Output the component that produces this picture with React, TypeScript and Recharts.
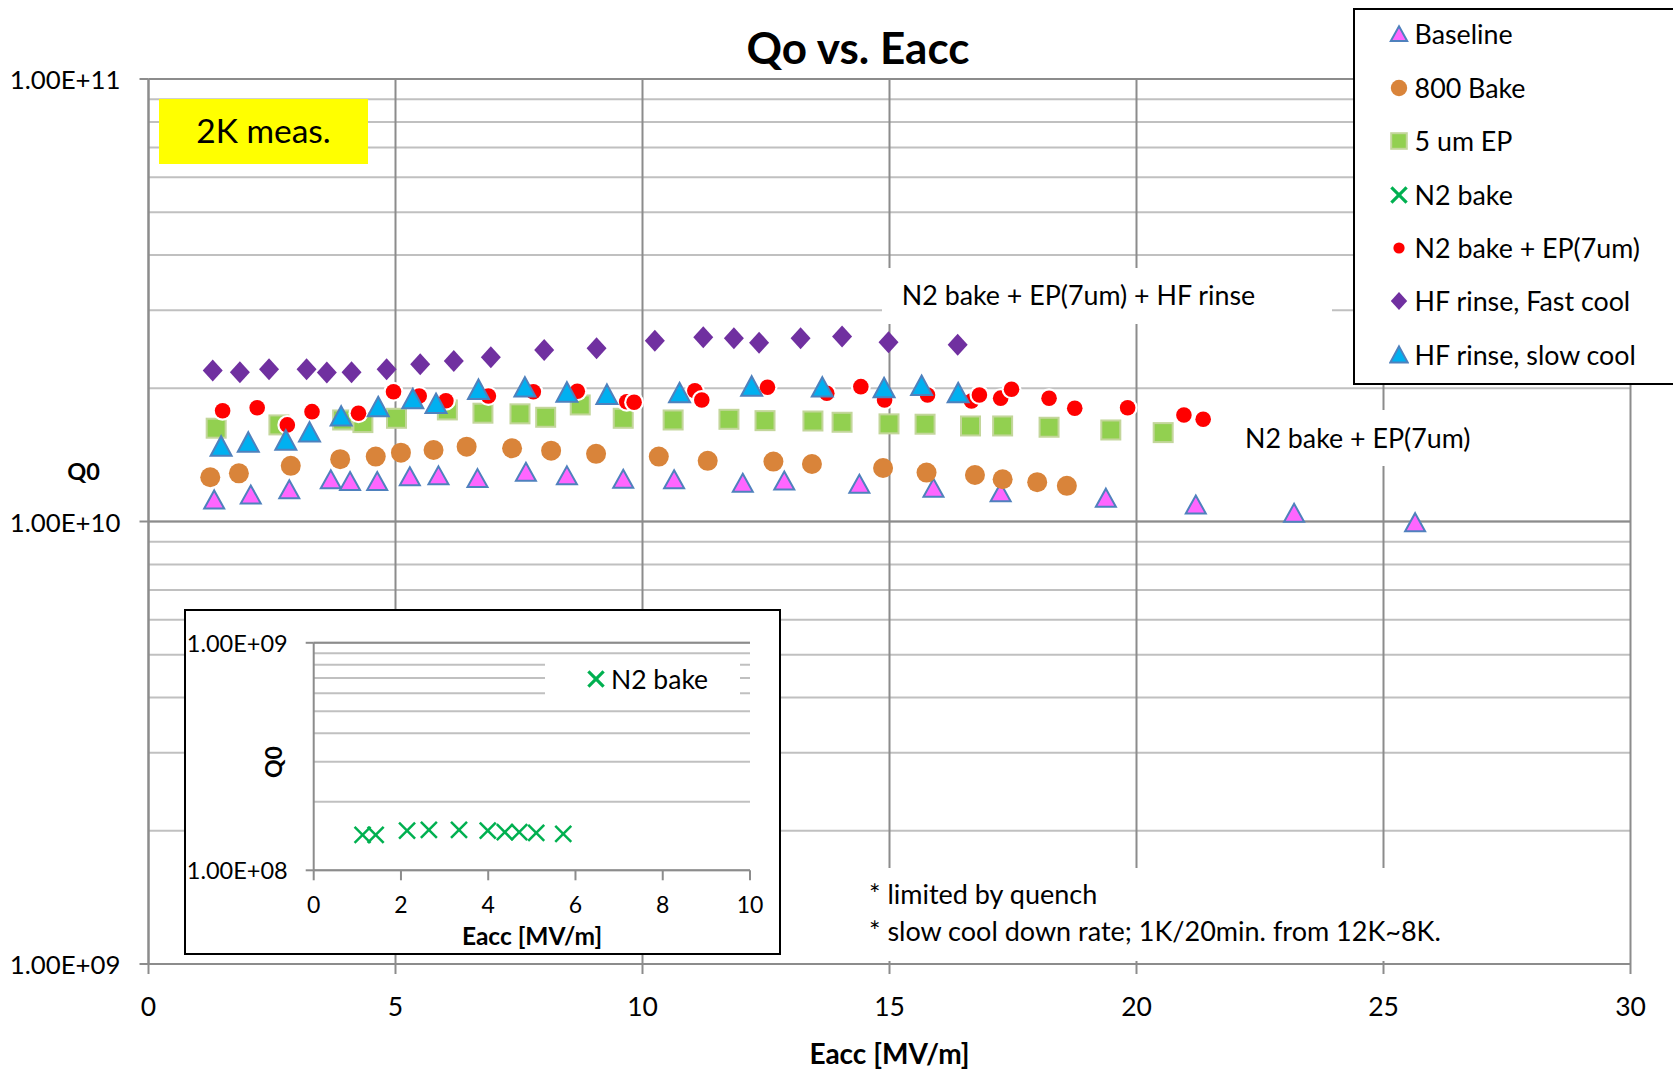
import React from "react";
import {
  CartesianGrid,
  Legend,
  ReferenceLine,
  Scatter,
  ScatterChart,
  XAxis,
  YAxis,
} from "recharts";

const FONT = "Lato, 'Open Sans', sans-serif";

// Eacc [MV/m] and Q0 (x1e10)
const baselineE = [1.33, 2.07, 2.85, 3.69, 4.08, 4.63, 5.29, 5.87, 6.66, 7.64, 8.47, 9.61, 10.64, 12.03, 12.87, 14.39, 15.89, 17.25, 19.38, 21.2, 23.19, 25.64];
const baselineQ = [1.119, 1.148, 1.179, 1.242, 1.231, 1.231, 1.262, 1.268, 1.25, 1.292, 1.268, 1.246, 1.242, 1.22, 1.235, 1.214, 1.189, 1.162, 1.129, 1.09, 1.044, 0.994];

const bake800E = [1.25, 1.83, 2.88, 3.88, 4.6, 5.11, 5.77, 6.44, 7.36, 8.15, 9.06, 10.33, 11.32, 12.65, 13.43, 14.87, 15.75, 16.73, 17.29, 17.99, 18.59];
const bake800Q = [1.259, 1.285, 1.336, 1.383, 1.402, 1.431, 1.451, 1.476, 1.464, 1.446, 1.422, 1.402, 1.371, 1.366, 1.349, 1.321, 1.29, 1.274, 1.246, 1.227, 1.204];

const ep5E = [1.37, 2.64, 3.93, 4.34, 5.02, 6.05, 6.77, 7.52, 8.04, 8.74, 9.61, 10.62, 11.75, 12.48, 13.45, 14.04, 14.99, 15.72, 16.64, 17.29, 18.23, 19.48, 20.54];
const ep5Q = [1.625, 1.653, 1.696, 1.673, 1.711, 1.787, 1.757, 1.751, 1.72, 1.834, 1.711, 1.696, 1.702, 1.69, 1.687, 1.676, 1.662, 1.659, 1.644, 1.644, 1.633, 1.61, 1.588];

const n2epE = [1.5, 2.2, 2.81, 3.31, 4.25, 4.96, 5.48, 6.02, 6.88, 7.79, 8.68, 9.68, 9.83, 11.06, 11.2, 12.53, 13.73, 14.42, 14.9, 15.77, 16.66, 16.82, 17.25, 17.47, 18.23, 18.75, 19.82, 20.96, 21.35];
const n2epQ = [1.78, 1.808, 1.653, 1.771, 1.757, 1.965, 1.921, 1.875, 1.921, 1.965, 1.97, 1.865, 1.86, 1.975, 1.882, 2.011, 1.949, 2.017, 1.882, 1.932, 1.872, 1.932, 1.9, 1.99, 1.899, 1.803, 1.808, 1.741, 1.702];

const hfFastE = [1.3, 1.85, 2.44, 3.2, 3.61, 4.11, 4.82, 5.5, 6.18, 6.93, 8.01, 9.07, 10.25, 11.23, 11.85, 12.36, 13.2, 14.04, 14.98, 16.38];
const hfFastQ = [2.193, 2.174, 2.208, 2.208, 2.17, 2.174, 2.208, 2.266, 2.306, 2.35, 2.441, 2.463, 2.563, 2.608, 2.595, 2.536, 2.595, 2.617, 2.541, 2.51];

const hfSlowE = [1.47, 2.02, 2.78, 3.26, 3.9, 4.65, 5.35, 5.82, 6.68, 7.62, 8.47, 9.28, 10.75, 12.21, 13.64, 14.89, 15.65, 16.39];
const hfSlowQ = [1.476, 1.507, 1.523, 1.588, 1.726, 1.812, 1.889, 1.843, 1.983, 2.007, 1.955, 1.932, 1.949, 2.017, 2.007, 2.0, 2.024, 1.949];

// inset, Q0 x1e8
const n2E = [1.12, 1.42, 2.14, 2.64, 3.33, 3.99, 4.38, 4.71, 5.1, 5.72];
const n2Q = [1.43, 1.43, 1.495, 1.506, 1.506, 1.495, 1.471, 1.471, 1.46, 1.445];

const xTicksMain = [0, 5, 10, 15, 20, 25, 30];
const yTicksMain = [1e9, 2e9, 3e9, 4e9, 5e9, 6e9, 7e9, 8e9, 9e9, 1e10, 2e10, 3e10, 4e10, 5e10, 6e10, 7e10, 8e10, 9e10, 1e11];
const yMajorMain = [1e9, 1e10, 1e11];
const xTicksInset = [0, 2, 4, 6, 8, 10];
const yTicksInset = [1e8, 2e8, 3e8, 4e8, 5e8, 6e8, 7e8, 8e8, 9e8, 1e9];
const yMajorInset = [1e8, 1e9];

const legendNames = [
  "Baseline",
  "800 Bake",
  "5 um EP",
  "N2 bake",
  "N2 bake + EP(7um)",
  "HF rinse, Fast cool",
  "HF rinse, slow cool",
];
const legendKinds = ["baseline", "bake800", "ep5", "n2", "n2ep", "hfFast", "hfSlow"];

const pts = (xs: number[], ys: number[], mult: number) =>
  xs.map((x, i) => ({ x, y: ys[i] * mult }));

const fmtSci = (v: number) => {
  const [m, e] = v.toExponential(2).split("e");
  return `${m}E${e[0]}${e.slice(1).padStart(2, "0")}`;
};

const GRID_LIGHT = "#c0c0c0";
const GRID_DARK = "#8c8c8c";

function Marker({ kind, cx, cy, k = 1, sw = 2.5 }: { kind: string; cx: number; cy: number; k?: number; sw?: number }) {
  switch (kind) {
    case "baseline":
      return (
        <polygon
          points={`${cx},${cy - 9.5 * k} ${cx + 10 * k},${cy + 8.5 * k} ${cx - 10 * k},${cy + 8.5 * k}`}
          fill="#ff66ff"
          stroke="#4f81bd"
          strokeWidth={2}
        />
      );
    case "bake800":
      return <circle cx={cx} cy={cy} r={10 * k} fill="#d9843a" />;
    case "ep5":
      return (
        <rect
          x={cx - 9.5 * k}
          y={cy - 9.5 * k}
          width={19 * k}
          height={19 * k}
          fill="#92d050"
          stroke="#c3d69b"
          strokeWidth={2}
        />
      );
    case "n2": {
      const s = 8 * k;
      return (
        <g stroke="#00b050" strokeWidth={sw}>
          <line x1={cx - s} y1={cy - s} x2={cx + s} y2={cy + s} />
          <line x1={cx - s} y1={cy + s} x2={cx + s} y2={cy - s} />
        </g>
      );
    }
    case "n2ep":
      return (
        <g>
          {k >= 1 && <circle cx={cx} cy={cy} r={10} fill="#ffffff" />}
          <circle cx={cx} cy={cy} r={7.8 * k} fill="#ff0000" />
        </g>
      );
    case "hfFast":
      return (
        <polygon
          points={`${cx},${cy - 11 * k} ${cx + 10 * k},${cy} ${cx},${cy + 11 * k} ${cx - 10 * k},${cy}`}
          fill="#7030a0"
        />
      );
    default:
      return (
        <polygon
          points={`${cx},${cy - 10.5 * k} ${cx + 10.5 * k},${cy + 9 * k} ${cx - 10.5 * k},${cy + 9 * k}`}
          fill="#00b0f0"
          stroke="#4f81bd"
          strokeWidth={2}
        />
      );
  }
}

const shapeOf = (kind: string) => (p: any) => <Marker kind={kind} cx={p.cx} cy={p.cy} />;

const hLine = (stroke: string) => (p: any) => (
  <line key={p.key} x1={p.x1} y1={p.y1} x2={p.x2} y2={p.y2} stroke={stroke} strokeWidth={2} />
);

function makeYTick(majors: number[], size: number, tickSize: number, margin: number) {
  return (p: any) => {
    const v = p.payload.value;
    if (!majors.some((m) => Math.abs(m - v) / m < 1e-6)) return <g />;
    const axisX = p.x + tickSize + margin;
    return (
      <g>
        <line x1={axisX - tickSize} y1={p.y} x2={axisX} y2={p.y} stroke={GRID_DARK} strokeWidth={2} />
        <text x={p.x} y={p.y} textAnchor="end" dominantBaseline="central" fontFamily={FONT} fontSize={size} fill="#000">
          {fmtSci(v)}
        </text>
      </g>
    );
  };
}

const makeXTick = (size: number) => (p: any) => (
  <text x={p.x} y={p.y} textAnchor="middle" dominantBaseline="central" fontFamily={FONT} fontSize={size} fill="#000">
    {p.payload.value}
  </text>
);

function Txt({
  x,
  y,
  size,
  bold,
  anchor = "middle",
  rotate,
  children,
}: {
  x: number;
  y: number;
  size: number;
  bold?: boolean;
  anchor?: string;
  rotate?: number;
  children: React.ReactNode;
}) {
  const tx = anchor === "middle" ? "-50%" : anchor === "end" ? "-100%" : "0";
  return (
    <div
      style={{
        position: "absolute",
        left: x,
        top: y,
        transform: `translate(${tx}, -50%)${rotate ? ` rotate(${rotate}deg)` : ""}`,
        fontSize: size,
        fontWeight: bold ? 700 : 400,
        whiteSpace: "nowrap",
        lineHeight: 1,
        color: "#000",
      }}
    >
      {children}
    </div>
  );
}

function MainLegend() {
  return (
    <div
      style={{
        width: 320,
        height: 377,
        boxSizing: "border-box",
        border: "2px solid #000",
        borderRight: "none",
        background: "#fff",
        fontFamily: FONT,
        fontSize: 26.8,
      }}
    >
      {legendNames.map((name, i) => (
        <div key={name} style={{ height: 53.4, display: "flex", alignItems: "center", marginTop: i === 0 ? -2 : 0 }}>
          <svg width={20} height={24} style={{ marginLeft: 33.6, marginRight: 6 }}>
            <Marker
              kind={legendKinds[i]}
              cx={10}
              cy={12}
              k={legendKinds[i] === "n2ep" ? 0.72 : legendKinds[i] === "n2" ? 0.95 : 0.82}
              sw={3.2}
            />
          </svg>
          <span style={{ color: "#000" }}>{name}</span>
        </div>
      ))}
    </div>
  );
}

function InsetLegend() {
  return (
    <div
      style={{
        width: 195,
        height: 33,
        background: "#fff",
        display: "flex",
        alignItems: "center",
        fontFamily: FONT,
        fontSize: 26.5,
      }}
    >
      <svg width={20} height={24} style={{ marginLeft: 41, marginRight: 5 }}>
        <Marker kind="n2" cx={10} cy={12} k={0.95} sw={3.2} />
      </svg>
      <span style={{ color: "#000" }}>N2 bake</span>
    </div>
  );
}

export default function App() {
  return (
    <div
      style={{
        position: "absolute",
        left: 0,
        top: 0,
        width: 1673,
        height: 1070,
        overflow: "hidden",
        background: "#fff",
        fontFamily: FONT,
      }}
    >
      <ScatterChart width={1673} height={1070} margin={{ top: 79, right: 42.5, bottom: 46, left: 0 }}>
        <CartesianGrid horizontal={hLine(GRID_LIGHT)} vertical={hLine(GRID_DARK)} />
        <XAxis
          type="number"
          dataKey="x"
          domain={[0, 30]}
          ticks={xTicksMain}
          height={60}
          axisLine={{ stroke: GRID_DARK, strokeWidth: 2 }}
          tickLine={{ stroke: GRID_DARK, strokeWidth: 2 }}
          tickSize={10}
          tickMargin={32}
          tick={makeXTick(26.5)}
        />
        <YAxis
          type="number"
          dataKey="y"
          scale="log"
          domain={[1e9, 1e11]}
          allowDataOverflow
          ticks={yTicksMain}
          width={148.5}
          axisLine={{ stroke: GRID_DARK, strokeWidth: 2 }}
          tickLine={false}
          tickSize={9}
          tickMargin={19}
          interval={0}
          tick={makeYTick(yMajorMain, 25.8, 9, 19)}
        />
        {yMajorMain.slice(1).map((v) => (
          <ReferenceLine key={v} y={v} stroke={GRID_DARK} strokeWidth={2} />
        ))}
        <Scatter name="Baseline" data={pts(baselineE, baselineQ, 1e10)} shape={shapeOf("baseline")} isAnimationActive={false} />
        <Scatter name="800 Bake" data={pts(bake800E, bake800Q, 1e10)} shape={shapeOf("bake800")} isAnimationActive={false} />
        <Scatter name="5 um EP" data={pts(ep5E, ep5Q, 1e10)} shape={shapeOf("ep5")} isAnimationActive={false} />
        <Scatter name="N2 bake + EP(7um)" data={pts(n2epE, n2epQ, 1e10)} shape={shapeOf("n2ep")} isAnimationActive={false} />
        <Scatter name="HF rinse, Fast cool" data={pts(hfFastE, hfFastQ, 1e10)} shape={shapeOf("hfFast")} isAnimationActive={false} />
        <Scatter name="HF rinse, slow cool" data={pts(hfSlowE, hfSlowQ, 1e10)} shape={shapeOf("hfSlow")} isAnimationActive={false} />
        <Legend
          layout="horizontal"
          verticalAlign="middle"
          align="center"
          content={() => <MainLegend />}
          wrapperStyle={{ left: 1353, top: 7.7, width: 320, height: 377 }}
        />
      </ScatterChart>

      <Txt x={858} y={47} size={44} bold>
        Qo vs. Eacc
      </Txt>
      <Txt x={83.5} y={472} size={23.5} bold>
        Q0
      </Txt>
      <Txt x={889.5} y={1053} size={28} bold>
        Eacc [MV/m]
      </Txt>

      <div style={{ position: "absolute", left: 159, top: 99, width: 209, height: 65, background: "#ffff00" }} />
      <Txt x={263.5} y={131} size={33.5}>
        2K meas.
      </Txt>

      <div style={{ position: "absolute", left: 882, top: 268, width: 450, height: 56, background: "#fff" }} />
      <Txt x={1078.5} y={295} size={26.8}>
        N2 bake + EP(7um) + HF rinse
      </Txt>

      <div style={{ position: "absolute", left: 1225, top: 410, width: 265, height: 56, background: "#fff" }} />
      <Txt x={1245} y={438} size={26.8} anchor="start">
        N2 bake + EP(7um)
      </Txt>

      <div style={{ position: "absolute", left: 862, top: 868, width: 610, height: 93, background: "#fff" }} />
      <Txt x={869} y={893} size={27} anchor="start">
        * limited by quench
      </Txt>
      <Txt x={869} y={930} size={27} anchor="start">
        * slow cool down rate; 1K/20min. from 12K~8K.
      </Txt>

      <div
        style={{
          position: "absolute",
          left: 184.3,
          top: 608.7,
          width: 596.4,
          height: 346.6,
          boxSizing: "border-box",
          border: "2px solid #000",
          background: "#fff",
        }}
      >
        <ScatterChart width={592} height={343} margin={{ top: 31.8, right: 28, bottom: 13.7, left: 0 }}>
          <CartesianGrid horizontal={hLine(GRID_LIGHT)} vertical={false} />
          <XAxis
            type="number"
            dataKey="x"
            domain={[0, 10]}
            ticks={xTicksInset}
            height={70}
            axisLine={{ stroke: GRID_DARK, strokeWidth: 2 }}
            tickLine={{ stroke: GRID_DARK, strokeWidth: 2 }}
            tickSize={10}
            tickMargin={24}
            tick={makeXTick(23)}
          />
          <YAxis
            type="number"
            dataKey="y"
            scale="log"
            domain={[1e8, 1e9]}
            allowDataOverflow
            ticks={yTicksInset}
            width={127.7}
            axisLine={{ stroke: GRID_DARK, strokeWidth: 2 }}
            tickLine={false}
            tickSize={8}
            tickMargin={18}
            interval={0}
            tick={makeYTick(yMajorInset, 23.5, 8, 18)}
          />
          <ReferenceLine y={1e9} stroke={GRID_DARK} strokeWidth={2} />
          <Scatter name="N2 bake" data={pts(n2E, n2Q, 1e8)} shape={shapeOf("n2")} isAnimationActive={false} />
          <Legend
            layout="horizontal"
            verticalAlign="middle"
            align="center"
            content={() => <InsetLegend />}
            wrapperStyle={{ left: 358.7, top: 52.3, width: 195, height: 33 }}
          />
        </ScatterChart>
        <Txt x={345.7} y={325.3} size={24.5} bold>
          Eacc [MV/m]
        </Txt>
        <Txt x={86.4} y={151.3} size={23} bold rotate={-90}>
          Q0
        </Txt>
      </div>
    </div>
  );
}
